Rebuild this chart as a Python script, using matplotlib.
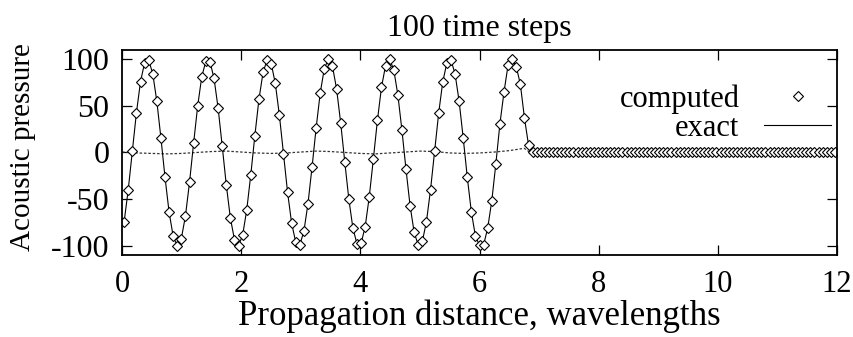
import numpy as np
import matplotlib.pyplot as plt

# ----------------------------
# Data
# ----------------------------
N_CELLS = 175
X_MAX = 12.0

# computed pressure at each cell (cell-centred grid, 175 cells over 12 wavelengths)
computed = [
    -74.0, -39.8, 1.5, 42.5, 76.0, 96.0, 99.0, 84.4, 54.8, 15.5,
    -26.6, -63.9, -89.9, -100.0, -92.2, -68.1, -32.0, 9.9, 50.0, 81.2,
    98.0, 97.5, 79.5, 47.6, 7.1, -34.6, -70.2, -93.3, -99.8, -88.7,
    -61.8, -23.9, 18.2, 57.1, 85.8, 99.3, 95.2, 74.2, 40.0, -1.3,
    -42.4, -75.9, -96.0, -99.0, -84.5, -54.9, -15.6, 26.4, 63.8, 89.9,
    100.0, 92.3, 68.3, 32.1, -9.7, -49.8, -81.1, -98.0, -97.5, -79.6,
    -47.7, -7.3, 34.4, 70.0, 93.2, 99.9, 88.8, 61.9, 24.1, -18.1,
    -57.0, -85.7, -99.3, -95.3, -74.3, -40.1, 1.1, 42.2, 75.8, 95.9,
    99.0, 84.6, 55.1, 15.8, -26.3, -63.7, -89.8, -99.5, -99.0, -81.0,
    -52.0, -12.0, 31.0, 65.0, 94.0, 100.0, 92.0, 73.0, 37.0, 8.0,
    0.0, 0.0, 0.0, 0.0, 0.0, 0.0, 0.0, 0.0, 0.0, 0.0,
    0.0, 0.0, 0.0, 0.0, 0.0, 0.0, 0.0, 0.0, 0.0, 0.0,
    0.0, 0.0, 0.0, 0.0, 0.0, 0.0, 0.0, 0.0, 0.0, 0.0,
    0.0, 0.0, 0.0, 0.0, 0.0, 0.0, 0.0, 0.0, 0.0, 0.0,
    0.0, 0.0, 0.0, 0.0, 0.0, 0.0, 0.0, 0.0, 0.0, 0.0,
    0.0, 0.0, 0.0, 0.0, 0.0, 0.0, 0.0, 0.0, 0.0, 0.0,
    0.0, 0.0, 0.0, 0.0, 0.0, 0.0, 0.0, 0.0, 0.0, 0.0,
    0.0, 0.0, 0.0, 0.0, 0.0,
]
# exact solution sits on top of the computed points at this resolution
exact = list(computed)

# small difference curve drawn dotted near zero
error_x = [0.0, 0.25, 0.5, 0.75, 1.0, 1.25, 1.5, 1.75, 2.0, 2.25,
           2.5, 2.75, 3.0, 3.25, 3.5, 3.75, 4.0, 4.25, 4.5, 4.75,
           5.0, 5.25, 5.5, 5.75, 6.0, 6.25, 6.5, 6.75, 6.85]
error_p = [0.5, -0.5, -1.0, -1.5, -1.0, 0.0, 1.0, 1.5, 0.5, -0.5,
           -1.0, -0.5, 0.5, 1.5, 1.0, 0.0, -1.0, -1.5, -0.5, 0.5,
           1.5, 1.0, -0.5, -1.0, -0.5, 0.5, 2.0, 4.5, 0.0]

x_ticks = [0, 2, 4, 6, 8, 10, 12]
y_ticks = [-100, -50, 0, 50, 100]

# ----------------------------
# Plot
# ----------------------------
plt.rcParams["font.family"] = ["Liberation Serif", "DejaVu Serif"]
plt.rcParams["font.size"] = 22
plt.rcParams["axes.unicode_minus"] = False

dx = X_MAX / N_CELLS
x = (np.arange(len(computed)) + 0.5) * dx

fig = plt.figure(figsize=(8.54, 3.37), dpi=100)
ax = fig.add_axes([0.143, 0.243, 0.837, 0.609])

ax.plot(error_x, error_p, color="#333333", linewidth=0.9,
        linestyle=(0, (2, 1.5)))
ax.plot(x, exact, color="black", linewidth=0.8, label="exact")
ax.plot(x, computed, linestyle="none", marker="D", markersize=5.2,
        markerfacecolor="white", markeredgecolor="black",
        markeredgewidth=0.8, label="computed")

ax.set_xlim(0, 12)
ax.set_ylim(-110, 110)
ax.set_xticks(x_ticks)
ax.set_yticks(y_ticks)
ax.tick_params(direction="in", length=7, width=0.9, top=True, right=True)
ax.tick_params(axis="x", pad=11, labelsize=22)
ax.tick_params(axis="y", pad=9, labelsize=23)
for sp in ax.spines.values():
    sp.set_linewidth(1.3)

ax.set_title("100 time steps", pad=10, fontsize=23)
ax.set_xlabel("Propagation distance, wavelengths", fontsize=25, labelpad=0)
ax.set_ylabel("Acoustic pressure", fontsize=21)
ax.yaxis.set_label_coords(-0.12, 0.525)

handles, labels = ax.get_legend_handles_labels()
ax.legend([handles[1], handles[0]], [labels[1], labels[0]],
          loc="upper right", bbox_to_anchor=(1.009, 0.89),
          frameon=False, markerfirst=False, fontsize=22,
          handlelength=2.2, borderaxespad=0.0, labelspacing=0.0,
          handletextpad=0.8)

fig.savefig("out.png", dpi=100)
